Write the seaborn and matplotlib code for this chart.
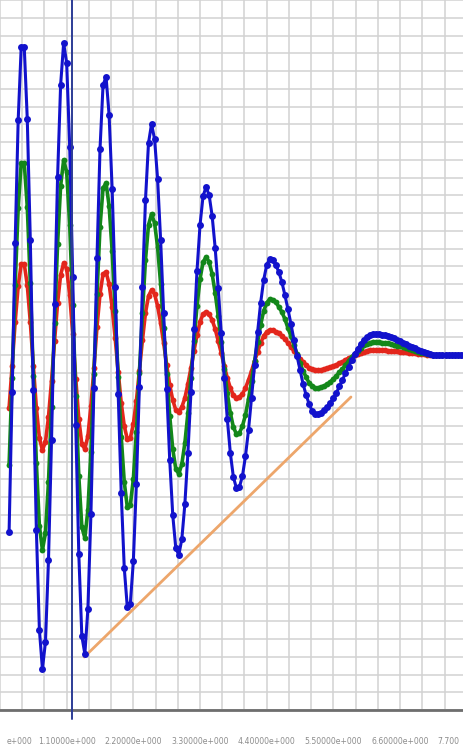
import numpy as np
import pandas as pd
import matplotlib
matplotlib.use("Agg")
import matplotlib.pyplot as plt
import seaborn as sns

# Sampled step response of three channels (uniform time base)
t_start = 0.15
t_step = 0.05

blue = [-177, -37, 112, 235, 308,
        308, 236, 115, -35, -175, -275, -314,
        -287, -205, -85, 51, 178, 270, 312,
        292, 208, 78, -70, -199, -281,
        -299, -254, -159, -33, 97, 206, 270,
        278, 240, 166, 68, -39, -138, -213, -252,
        -249, -206, -129, -32, 68, 155, 212,
        231, 216, 176, 115, 42, -34, -105, -160, -193,
        -200, -184, -149, -98, -37, 26, 84, 130, 159,
        168, 160, 139, 107, 67, 22, -23, -64, -98, -122, -133,
        -132, -121, -101, -75, -43, -10, 23, 52, 75, 90, 96,
        95, 90, 83, 73, 60, 46, 31, 15, -1, -15, -29, -40, -49, -56, -59,
        -59, -58, -55, -52, -48, -43, -38, -31, -25, -18, -12, -5, 1, 6, 11, 15, 18, 20, 21,
        21, 21, 20, 20, 19, 18, 17, 15, 14, 12, 11, 9, 8, 7, 5, 4, 3, 2, 1, 0, 0, 0,
        0, 0, 0, 0, 0, 0, 0, 0]

green = [-110, -23, 70, 147, 192,
         192, 148, 72, -21, -108, -171, -195,
         -178, -127, -52, 32, 111, 169, 195,
         183, 130, 50, -41, -121, -172,
         -183, -155, -97, -19, 61, 128, 167,
         172, 149, 104, 44, -22, -82, -127, -152,
         -150, -124, -77, -18, 42, 95, 130,
         141, 132, 108, 71, 27, -19, -61, -94, -114,
         -119, -109, -88, -58, -23, 14, 49, 76, 93,
         98, 93, 81, 62, 39, 13, -14, -38, -58, -72, -79,
         -78, -71, -60, -44, -26, -6, 13, 30, 44, 52, 56,
         55, 53, 48, 43, 36, 27, 19, 10, 1, -8, -16, -22, -28, -31, -33,
         -33, -32, -31, -29, -27, -24, -21, -17, -14, -10, -6, -2, 1, 4, 7, 10, 11, 12, 13,
         13, 13, 12, 12, 12, 11, 10, 9, 9, 8, 7, 6, 5, 4, 3, 2, 2, 1, 1, 0, 0, 0,
         0, 0, 0, 0, 0, 0, 0, 0]

red = [-53, -11, 33, 69, 91,
       91, 70, 33, -11, -53, -83, -95,
       -87, -62, -26, 14, 52, 80, 92,
       86, 60, 21, -24, -64, -89,
       -94, -81, -51, -13, 28, 61, 81,
       83, 71, 48, 17, -17, -48, -71, -84,
       -83, -69, -46, -16, 15, 42, 59,
       65, 61, 49, 32, 12, -10, -30, -45, -55,
       -57, -52, -43, -29, -13, 4, 20, 33, 41,
       43, 41, 35, 26, 14, 2, -11, -23, -33, -40, -43,
       -42, -39, -33, -25, -16, -6, 3, 12, 19, 23, 25,
       25, 23, 22, 19, 16, 12, 8, 4, 0, -4, -7, -10, -13, -14, -15,
       -15, -15, -14, -13, -12, -11, -10, -8, -7, -5, -3, -2, 0, 1, 2, 3, 4, 5, 5,
       5, 5, 5, 5, 4, 4, 4, 4, 3, 3, 3, 2, 2, 2, 1, 1, 1, 0, 0, 0, 0, 0,
       0, 0, 0, 0, 0, 0, 0, 0]

# Envelope line through the troughs
trend_t = [1.39, 5.79]
trend_v = [-302, -42]

# Cursor position
cursor_t = 1.196

# Time-axis labels (every third tick); the outer two sit at the plot edges
label_values = [0.0, 1.1, 2.2, 3.3, 4.4, 5.5, 6.6, 7.7]
label_texts = ["e+000", "1.10000e+000", "2.20000e+000", "3.30000e+000",
               "4.40000e+000", "5.50000e+000", "6.60000e+000", "7.700"]

label_step = 1.1
tick_step = label_step / 3
grid_step_y = 17.75

sns.set_theme(style="white")
plt.rcParams['font.family'] = ['DejaVu Sans']

W, H = 464, 746
fig = plt.figure(figsize=(W / 100, H / 100), dpi=100)
fig.patch.set_facecolor("white")
ax = fig.add_axes([0, 36 / H, 1, 710 / H])
ax.set_facecolor("white")

t = t_start + t_step * np.arange(len(blue))
df = pd.DataFrame({"t": t, "blue": blue, "green": green, "red": red})

styles = [
    ("red", "#e3261c", 2.6, 4.2),
    ("green", "#13871a", 2.6, 4.2),
    ("blue", "#1212cc", 2.2, 5.0),
]
for col, color, lw, ms in styles:
    sns.lineplot(data=df, x="t", y=col, ax=ax, color=color, linewidth=lw,
                 marker="o", markersize=ms, markeredgewidth=0, zorder=4)

sns.lineplot(x=trend_t, y=trend_v, ax=ax, color="#eda66b", linewidth=2.0, zorder=3)

ax.axvline(cursor_t, ymin=-0.012, ymax=1, color="#2c3c96", linewidth=1.4,
           clip_on=False, zorder=5)

ax.set_xlim(0.082, 7.655)
ax.set_ylim(-355, 355)

ax.set_xticks(np.arange(0, 7.66, tick_step))
ax.set_yticks(np.arange(-20, 21) * grid_step_y)
ax.grid(True, color="#d2d2d2", linewidth=1.1)
ax.set_axisbelow(True)

ax.tick_params(axis="x", direction="out", length=13, width=1.6, color="#8a8a8a",
               labelbottom=False)
ax.tick_params(axis="y", length=0, labelleft=False)
ax.set_xlabel("")
ax.set_ylabel("")

for side in ("top", "left", "right"):
    ax.spines[side].set_visible(False)
ax.spines["bottom"].set_color("#6e6e6e")
ax.spines["bottom"].set_linewidth(2.0)

xform = ax.get_xaxis_transform()
for v, txt in zip(label_values, label_texts):
    if v < 0.5:
        ax.text(0.115, -0.0437, txt, transform=xform, ha="left", va="center",
                fontsize=5.6, color="#8c8c8c")
    elif v > 7.6:
        ax.text(7.22, -0.0437, txt, transform=xform, ha="left", va="center",
                fontsize=5.6, color="#8c8c8c")
    else:
        ax.text(v, -0.0437, txt, transform=xform, ha="center", va="center",
                fontsize=5.6, color="#8c8c8c")

fig.savefig("out.png", dpi=100, facecolor="white")
